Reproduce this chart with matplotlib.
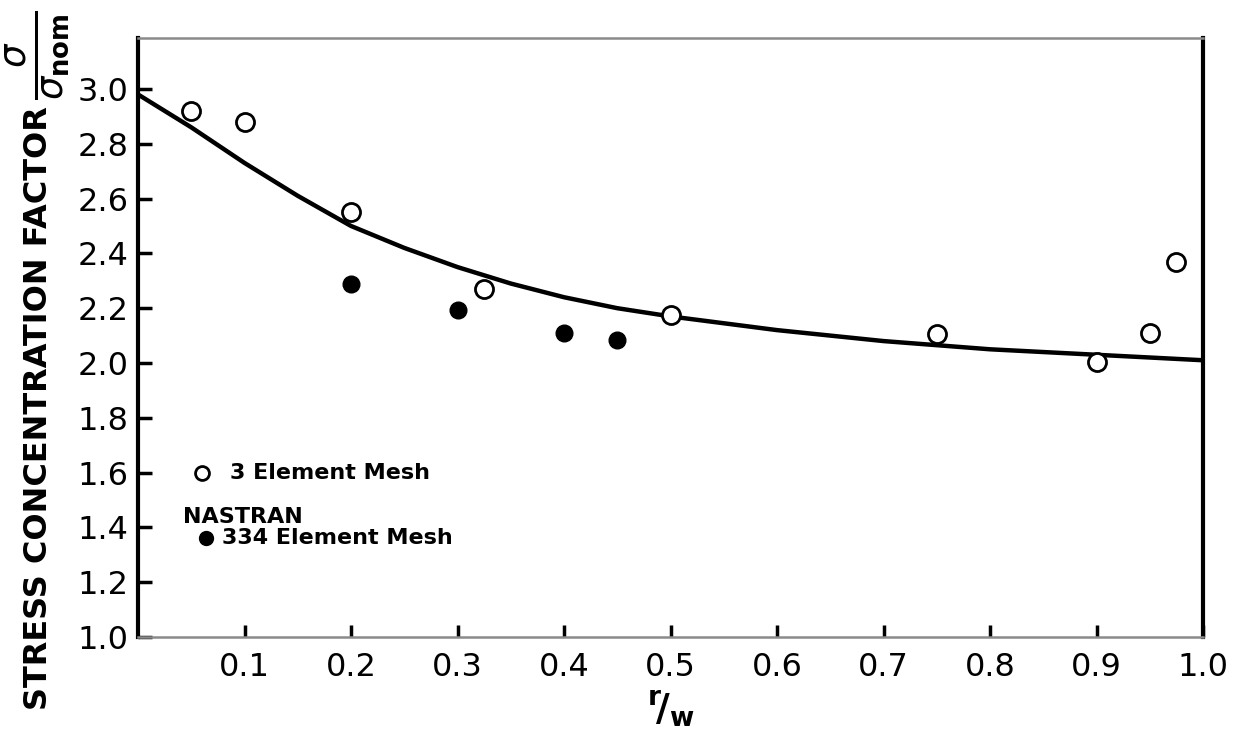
import numpy as np
import matplotlib
matplotlib.use("Agg")
import matplotlib.pyplot as plt

# 3 element mesh results (open circles)
mesh3_x = [0.05, 0.10, 0.20, 0.325, 0.50, 0.75, 0.90, 0.95, 0.975]
mesh3_y = [2.92, 2.88, 2.55, 2.27, 2.175, 2.105, 2.005, 2.11, 2.37]

# NASTRAN 334 element mesh results (filled circles)
nastran_x = [0.20, 0.30, 0.40, 0.45]
nastran_y = [2.29, 2.195, 2.11, 2.085]

# reference curve
curve_x = [0.0, 0.05, 0.10, 0.15, 0.20, 0.25, 0.30, 0.35, 0.40, 0.45, 0.50,
           0.60, 0.70, 0.80, 0.90, 1.00]
curve_y = [2.98, 2.86, 2.73, 2.61, 2.50, 2.42, 2.35, 2.29, 2.24, 2.20, 2.17,
           2.12, 2.08, 2.05, 2.03, 2.01]

xticks = [0.1, 0.2, 0.3, 0.4, 0.5, 0.6, 0.7, 0.8, 0.9, 1.0]
yticks = [1.0, 1.2, 1.4, 1.6, 1.8, 2.0, 2.2, 2.4, 2.6, 2.8, 3.0]

fig = plt.figure(figsize=(12.49, 7.35), dpi=100)
ax = fig.add_axes([0.1105, 0.1333, 0.8527, 0.8150])

ax.plot(curve_x, curve_y, color="black", lw=3.2, solid_capstyle="round", zorder=2)
ax.plot(mesh3_x, mesh3_y, "o", ms=13, mfc="white", mec="black", mew=2, zorder=3)
ax.plot(nastran_x, nastran_y, "o", ms=12, mfc="black", mec="black", zorder=3)

ax.set_xlim(0, 1.0)
ax.set_ylim(1.0, 3.186)

ax.set_xticks(xticks)
ax.set_xticklabels(["%.1f" % v for v in xticks])
ax.set_yticks(yticks)
ax.set_yticklabels(["%.1f" % v for v in yticks])
ax.tick_params(axis="both", direction="in", width=2.5, color="black",
               labelsize=23)
ax.tick_params(axis="y", length=10, pad=7)
ax.tick_params(axis="x", length=9, pad=11)

for side in ["left", "right"]:
    ax.spines[side].set_linewidth(3)
    ax.spines[side].set_color("black")
for side in ["top", "bottom"]:
    ax.spines[side].set_linewidth(1.8)
    ax.spines[side].set_color("#8a8a8a")

fig.text(0.031, 0.445, "STRESS CONCENTRATION FACTOR", rotation=90,
         fontsize=23, fontweight="bold", ha="center", va="center")
fig.text(0.030, 0.925, r"$\frac{\sigma}{\sigma_{\mathbf{nom}}}$", rotation=90,
         fontsize=38, ha="center", va="center")
ax.set_xlabel(r"$^{\mathbf{r}}\!\mathbf{/}_{\mathbf{w}}$", fontsize=27,
              labelpad=4)

# legend-like annotations
ax.plot([0.060], [0.274], "o", ms=10, mfc="white", mec="black", mew=2,
        transform=ax.transAxes, clip_on=False)
ax.text(0.086, 0.274, "3 Element Mesh", transform=ax.transAxes, fontsize=16,
        fontweight="bold", va="center")
ax.text(0.042, 0.200, "NASTRAN", transform=ax.transAxes, fontsize=16,
        fontweight="bold", va="center")
ax.plot([0.064], [0.165], "o", ms=10, mfc="black", mec="black",
        transform=ax.transAxes, clip_on=False)
ax.text(0.079, 0.165, "334 Element Mesh", transform=ax.transAxes, fontsize=16,
        fontweight="bold", va="center")

fig.savefig("out.png", dpi=100)
